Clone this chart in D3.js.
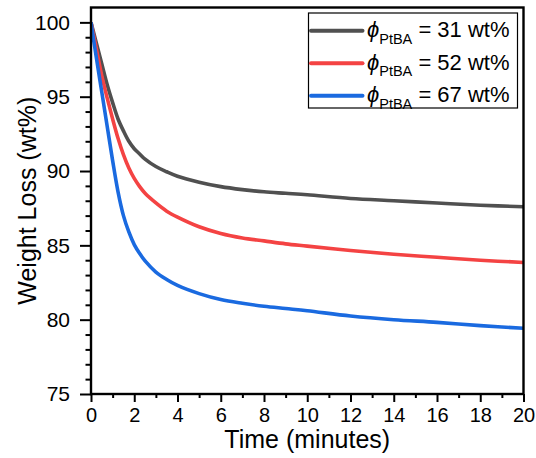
<!DOCTYPE html>
<html>
<head>
<meta charset="utf-8">
<script src="https://cdn.jsdelivr.net/npm/d3@7"></script>
<style>
  html, body { margin: 0; padding: 0; background: #fff; }
  svg { display: block; font-family: "Liberation Sans", Arial, sans-serif; }
</style>
</head>
<body>
<svg id="chart" width="536" height="458"></svg>
<script>
// Isothermal weight-loss curves (weight % vs time) for three PtBA contents
const time = [0, 0.25, 0.5, 0.75, 1, 1.25, 1.5, 1.75, 2, 2.25, 2.5, 3, 3.5, 4, 5, 6, 7, 8, 9, 10, 12, 14, 16, 18, 20];
const loss31 = [100, 98.6, 97.2, 95.8, 94.6, 93.5, 92.7, 92.0, 91.5, 91.15, 90.8, 90.3, 89.95, 89.65, 89.25, 88.95, 88.75, 88.6, 88.5, 88.4, 88.15, 88.0, 87.85, 87.7, 87.6];
const loss52 = [100, 98.2, 96.4, 94.9, 93.5, 92.2, 91.1, 90.2, 89.5, 88.95, 88.5, 87.85, 87.3, 86.9, 86.25, 85.8, 85.5, 85.3, 85.1, 84.95, 84.65, 84.4, 84.2, 84.0, 83.85];
const loss67 = [100, 97.6, 95.3, 93.0, 90.7, 88.6, 87.0, 85.9, 85.05, 84.45, 83.95, 83.2, 82.7, 82.3, 81.75, 81.35, 81.1, 80.9, 80.75, 80.6, 80.25, 80.0, 79.82, 79.6, 79.42];
const seriesNames = ["31", "52", "67"];
const seriesColors = ["#505050", "#f44343", "#1a6ae0"];
const xTicks = [0, 2, 4, 6, 8, 10, 12, 14, 16, 18, 20];
const yTicks = [75, 80, 85, 90, 95, 100];

const svg = d3.select("#chart");
const plotLeft = 91, plotRight = 523.5, plotTop = 7.5, plotBottom = 394;

const x = d3.scaleLinear().domain([0, 20]).range([plotLeft, plotRight]);
const y = d3.scaleLinear().domain([75, 101]).range([plotBottom, plotTop]);

const fontFamily = '"Liberation Sans", Arial, sans-serif';

// curves
const allSeries = [loss31, loss52, loss67];
svg.append("clipPath").attr("id", "plotClip")
  .append("rect").attr("x", plotLeft).attr("y", plotTop)
  .attr("width", plotRight - plotLeft).attr("height", plotBottom - plotTop);

const line = d3.line()
  .x((d, i) => x(time[i]))
  .y(d => y(d))
  .curve(d3.curveCatmullRom.alpha(0.5));

allSeries.forEach((s, k) => {
  svg.append("path")
    .datum(s)
    .attr("clip-path", "url(#plotClip)")
    .attr("fill", "none")
    .attr("stroke", seriesColors[k])
    .attr("stroke-width", 3.6)
    .attr("stroke-linejoin", "round")
    .attr("d", line);
});

// minor ticks
const xMinor = d3.range(1, 20, 2);
const yMinor = d3.range(76, 101, 1).filter(v => v % 5 !== 0);

svg.append("g")
  .attr("transform", `translate(0,${plotBottom})`)
  .call(d3.axisBottom(x).tickValues(xMinor).tickSize(4).tickSizeOuter(0).tickFormat(""))
  .call(g => g.select(".domain").remove())
  .call(g => g.selectAll("line").attr("stroke", "#000").attr("stroke-width", 2));

svg.append("g")
  .attr("transform", `translate(${plotLeft},0)`)
  .call(d3.axisLeft(y).tickValues(yMinor).tickSize(5.5).tickSizeOuter(0).tickFormat(""))
  .call(g => g.select(".domain").remove())
  .call(g => g.selectAll("line").attr("stroke", "#000").attr("stroke-width", 2));

// major ticks + labels
const xAxis = svg.append("g")
  .attr("transform", `translate(0,${plotBottom})`)
  .call(d3.axisBottom(x).tickValues(xTicks).tickSize(8).tickSizeOuter(0).tickPadding(6))
  .call(g => g.select(".domain").remove());
xAxis.selectAll("line").attr("stroke", "#000").attr("stroke-width", 2);
xAxis.selectAll("text")
  .attr("fill", "#000")
  .style("font-family", fontFamily)
  .style("font-size", "20px");

const yAxis = svg.append("g")
  .attr("transform", `translate(${plotLeft},0)`)
  .call(d3.axisLeft(y).tickValues(yTicks).tickSize(11).tickSizeOuter(0).tickPadding(10))
  .call(g => g.select(".domain").remove());
yAxis.selectAll("line").attr("stroke", "#000").attr("stroke-width", 2);
yAxis.selectAll("text")
  .attr("fill", "#000")
  .style("font-family", fontFamily)
  .style("font-size", "21px");

// frame
svg.append("rect")
  .attr("x", plotLeft).attr("y", plotTop)
  .attr("width", plotRight - plotLeft).attr("height", plotBottom - plotTop)
  .attr("fill", "none")
  .attr("stroke", "#000")
  .attr("stroke-width", 2.4);

// axis titles
svg.append("text")
  .attr("x", (plotLeft + plotRight) / 2)
  .attr("y", 448)
  .attr("text-anchor", "middle")
  .style("font-size", "25px")
  .text("Time (minutes)");

svg.append("text")
  .attr("transform", `translate(36,${(plotTop + plotBottom) / 2}) rotate(-90)`)
  .attr("text-anchor", "middle")
  .style("font-size", "25px")
  .text("Weight Loss (wt%)");

// legend
const lg = svg.append("g");
lg.append("rect")
  .attr("x", 308.5).attr("y", 13)
  .attr("width", 209).attr("height", 95)
  .attr("fill", "#fff")
  .attr("stroke", "#000")
  .attr("stroke-width", 1.2);

seriesNames.forEach((name, k) => {
  const cy = 30.7 + k * 32.5;
  lg.append("line")
    .attr("x1", 311).attr("x2", 362.5)
    .attr("y1", cy).attr("y2", cy)
    .attr("stroke", seriesColors[k])
    .attr("stroke-width", 4)
    .attr("stroke-linecap", "round");
  const t = lg.append("text")
    .attr("x", 367)
    .attr("y", cy + 6.5)
    .style("font-size", "22px");
  t.append("tspan").style("font-style", "italic").text("ϕ");
  t.append("tspan").attr("dy", 6.5).style("font-size", "14.5px").text("PtBA");
  t.append("tspan").attr("dy", -6.5).text(" = " + name + " wt%");
});
</script>
</body>
</html>
